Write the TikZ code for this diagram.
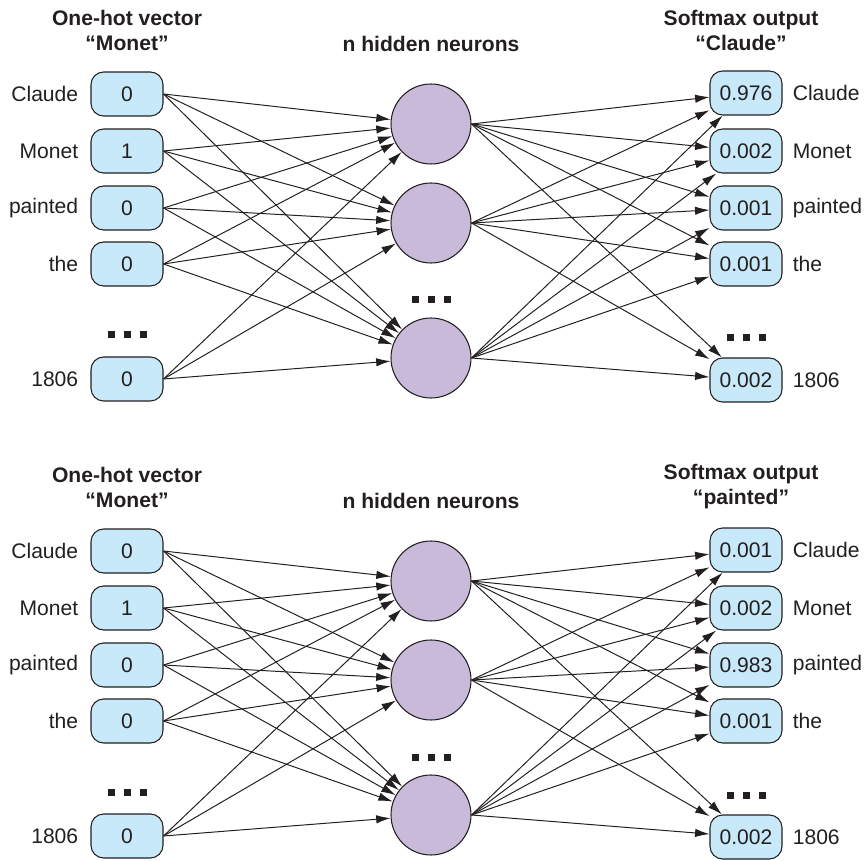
\documentclass[tikz,border=0pt]{standalone}
\usepackage{fontspec}
\setmainfont{Liberation Sans}
\usetikzlibrary{arrows.meta,positioning}

\definecolor{inkgray}{RGB}{35,31,32}
\definecolor{cellblue}{RGB}{200,233,249}
\definecolor{hiddenlilac}{RGB}{201,186,217}

\tikzset{
  cell/.style={draw=inkgray, fill=cellblue, rounded corners=9pt, line width=0.75pt,
    minimum width=1.8cm, minimum height=1.1cm, inner sep=0pt, text=inkgray,
    font=\fontsize{15}{18}\selectfont},
  neuron/.style={circle, draw=inkgray, fill=hiddenlilac, line width=0.75pt,
    minimum size=2cm, inner sep=0pt},
  wordlabel/.style={inner sep=0pt, text=inkgray, font=\fontsize{15}{18}\selectfont},
  heading/.style={align=center, text=inkgray, font=\fontsize{15}{17.8}\selectfont\bfseries},
  wire/.style={draw=inkgray, line width=0.7pt, -{Latex[length=3.6mm,width=2.1mm]}},
}

\begin{document}
\begin{tikzpicture}[x=0.25mm, y=-0.25mm]
  \useasboundingbox (0,0) rectangle (865,861);
  \foreach \p/\dy/\target/\oa/\ob/\oc/\od/\oe in
    {a/0/Claude/0.976/0.002/0.001/0.001/0.002,
     b/457/painted/0.001/0.002/0.983/0.001/0.002}
  {
  \begin{scope}[shift={(0,\dy)}]
    \node[heading] (hin\p) at (127,30) {One-hot vector\\“Monet”};
    \node[heading] (hmid\p) at (431,44) {n hidden neurons};
    \node[heading] (hout\p) at (741,30) {Softmax output\\“\target”};

    % one-hot input
    \foreach \i/\y/\w/\v in {1/94/Claude/0, 2/151/Monet/1, 3/208/painted/0,
                             4/264/the/0, 5/379/1806/0}
    {
      \node[cell] (in\p\i) at (127,\y) {\v};
      \node[wordlabel, left=3mm of in\p\i] (inw\p\i) {\w};
    }
    % hidden layer
    \foreach \j/\y in {1/124, 2/223, 3/358}
      \node[neuron] (h\p\j) at (431,\y) {};
    % softmax output
    \foreach \k/\y/\w/\v in {1/93/Claude/\oa, 2/151/Monet/\ob, 3/208/painted/\oc,
                             4/264/the/\od, 5/380/1806/\oe}
    {
      \node[cell] (out\p\k) at (746,\y) {\v};
      \node[wordlabel, right=2.5mm of out\p\k] (outw\p\k) {\w};
    }

    % the "..." rows
    \foreach \cx/\cy in {127/335, 431/300, 746/338}
      \foreach \d in {-16,0,16}
        \fill[inkgray] (\cx+\d-3.5,\cy-3.5) rectangle ++(7,7);

    \foreach \i in {1,...,5}
      \foreach \j in {1,2,3}
        \draw[wire] (in\p\i.east) -- (h\p\j);
    \foreach \j in {1,2,3}
      \foreach \k in {1,...,5}
        \draw[wire] (h\p\j.east) -- (out\p\k);
  \end{scope}
  }
\end{tikzpicture}
\end{document}
